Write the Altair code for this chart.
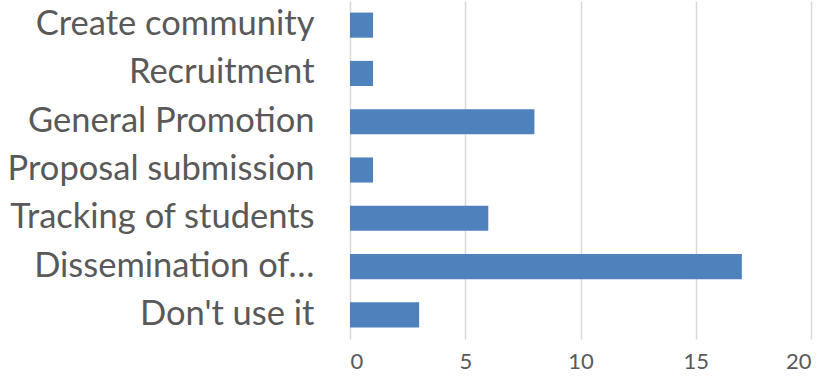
import altair as alt
import pandas as pd

categories = ["Create community", "Recruitment", "General Promotion", "Proposal submission",
              "Tracking of students", "Dissemination of\u2026", "Don't use it"]
values = [1, 1, 8, 1, 6, 17, 3]

df = pd.DataFrame({"category": categories, "value": values})

chart = alt.Chart(df).mark_bar(color="#4f81bd").encode(
    x=alt.X("value:Q", scale=alt.Scale(domain=[0, 20], nice=False),
            axis=alt.Axis(values=[0, 5, 10, 15, 20], title=None, grid=True, gridColor="#d9d9d9",
                          gridWidth=1.5, domain=False, ticks=False, labelFontSize=22,
                          labelColor="#595959", labelFont="Lato", labelPadding=12)),
    y=alt.Y("category:N", sort=categories,
            scale=alt.Scale(paddingInner=0.48, paddingOuter=0.24),
            axis=alt.Axis(title=None, domain=False, ticks=False, labelFontSize=34.5,
                          labelColor="#595959", labelFont="Lato", labelPadding=36,
                          labelLimit=400)),
).properties(
    width=461, height=338,
    autosize=alt.AutoSizeParams(type="none"),
    padding={"left": 350, "top": 1, "right": 17, "bottom": 46},
).configure_view(stroke=None)

chart.save("out.html", embed_options={"renderer": "svg", "actions": False})
